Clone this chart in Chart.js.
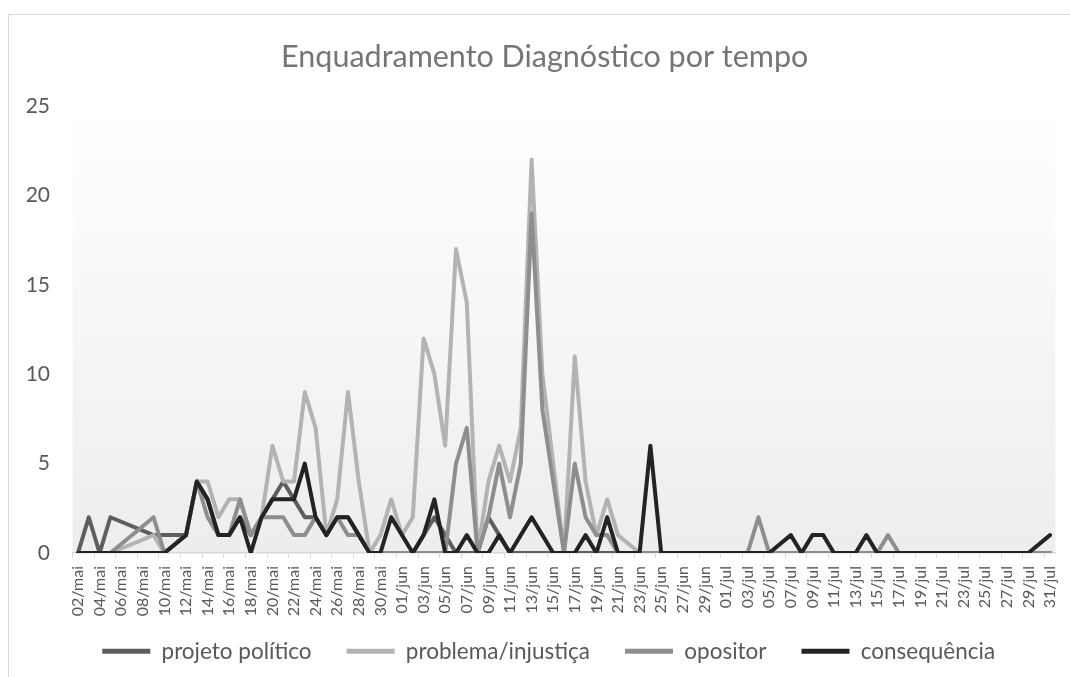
<!DOCTYPE html>
<html>
<head>
<meta charset="utf-8">
<script src="https://cdn.jsdelivr.net/npm/chart.js@4.4.1/dist/chart.umd.min.js"></script>
<style>
  html, body { margin: 0; padding: 0; background: #fff; }
  #wrap { position: relative; width: 1070px; height: 677px; }
</style>
</head>
<body>
<div id="wrap"><canvas id="graficoTempo"></canvas></div>
<script>
// dias (02/mai a 31/jul)
var dias = [
  '02/mai','03/mai','04/mai','05/mai','06/mai','07/mai','08/mai','09/mai','10/mai','11/mai',
  '12/mai','13/mai','14/mai','15/mai','16/mai','17/mai','18/mai','19/mai','20/mai','21/mai',
  '22/mai','23/mai','24/mai','25/mai','26/mai','27/mai','28/mai','29/mai','30/mai','31/mai',
  '01/jun','02/jun','03/jun','04/jun','05/jun','06/jun','07/jun','08/jun','09/jun','10/jun',
  '11/jun','12/jun','13/jun','14/jun','15/jun','16/jun','17/jun','18/jun','19/jun','20/jun',
  '21/jun','22/jun','23/jun','24/jun','25/jun','26/jun','27/jun','28/jun','29/jun','30/jun',
  '01/jul','02/jul','03/jul','04/jul','05/jul','06/jul','07/jul','08/jul','09/jul','10/jul',
  '11/jul','12/jul','13/jul','14/jul','15/jul','16/jul','17/jul','18/jul','19/jul','20/jul',
  '21/jul','22/jul','23/jul','24/jul','25/jul','26/jul','27/jul','28/jul','29/jul','30/jul',
  '31/jul'
];

// null = dia sem registro (a linha liga os vizinhos)
var projetoPolitico = [
  0,2,0,2,null,null,null,1,1,null,
  1,4,3,1,1,2,1,2,3,4,
  3,2,2,1,2,2,1,0,0,0,
  0,0,1,2,1,0,0,0,2,1,
  0,0,0,0,0,0,0,0,0,0,
  0,null,0,0,0,0,0,0,0,0,
  0,0,0,0,0,null,0,0,0,0,
  0,0,0,0,0,0,0,0,0,0,
  0,0,0,0,0,0,0,0,0,null,
  0
];
var problemaInjustica = [
  0,0,0,0,null,null,null,1,0,null,
  1,4,4,2,3,3,1,2,6,4,
  4,9,7,1,3,9,4,0,1,3,
  1,2,12,10,6,17,14,0,4,6,
  4,7,22,10,5,0,11,4,1,3,
  1,null,0,0,0,0,0,0,0,0,
  0,0,0,0,0,null,0,0,0,0,
  0,0,0,0,0,0,0,0,0,0,
  0,0,0,0,0,0,0,0,0,null,
  0
];
var opositor = [
  0,0,0,0,null,null,null,2,0,null,
  1,4,2,1,1,3,1,2,2,2,
  1,1,2,1,2,1,1,0,0,0,
  0,0,0,0,0,5,7,0,2,5,
  2,5,19,8,4,0,5,2,1,1,
  0,null,0,0,0,0,0,0,0,0,
  0,0,0,2,0,null,0,0,0,0,
  0,0,0,0,0,1,0,0,0,0,
  0,0,0,0,0,0,0,0,0,null,
  0
];
var consequencia = [
  0,0,0,0,null,null,null,0,0,null,
  1,4,3,1,1,2,0,2,3,3,
  3,5,2,1,2,2,1,0,0,2,
  1,0,1,3,0,0,1,0,0,1,
  0,1,2,1,0,0,0,1,0,2,
  0,null,0,6,0,0,0,0,0,0,
  0,0,0,0,0,null,1,0,1,1,
  0,0,0,1,0,0,0,0,0,0,
  0,0,0,0,0,0,0,0,0,null,
  1
];
var nomesSeries = ['projeto político', 'problema/injustiça', 'opositor', 'consequência'];
var coresSeries = ['#5e5e5e', '#b3b3b3', '#8e8e8e', '#232323'];
var ticksY = [0, 5, 10, 15, 20, 25];

var fonte = 'Lato, "Open Sans", sans-serif';

var fundoPlugin = {
  id: 'fundo',
  beforeDraw: function(chart) {
    var ctx = chart.ctx, a = chart.chartArea;
    ctx.save();
    ctx.fillStyle = '#ffffff';
    ctx.fillRect(0, 0, chart.width, chart.height);
    var g = ctx.createLinearGradient(0, a.top, 0, a.bottom);
    g.addColorStop(0, '#ffffff');
    g.addColorStop(1, '#ededed');
    ctx.fillStyle = g;
    ctx.fillRect(a.left, a.top, a.right - a.left, a.bottom - a.top);
    ctx.strokeStyle = '#d9d9d9';
    ctx.lineWidth = 1;
    ctx.strokeRect(8.5, 14.5, chart.width + 20, chart.height + 20);
    ctx.restore();
  }
};

// ajuste fino da posição do título e da legenda
var ajustePlugin = {
  id: 'ajuste',
  afterLayout: function(chart) {
    var l = chart.legend;
    l.top -= 12;
    l.left += 16;
    l.right += 16;
    var t = chart.titleBlock;
    if (t) { t.left += 12; t.right += 12; }
  }
};

function serie(i, valores, ordem) {
  return {
    label: nomesSeries[i],
    data: valores,
    borderColor: coresSeries[i],
    backgroundColor: coresSeries[i],
    borderWidth: 4,
    pointRadius: 0,
    tension: 0,
    spanGaps: true,
    fill: false,
    borderJoinStyle: 'round',
    borderCapStyle: 'round',
    order: ordem
  };
}

var config = {
  type: 'line',
  data: {
    labels: dias,
    datasets: [
      serie(0, projetoPolitico, 4),
      serie(1, problemaInjustica, 3),
      serie(2, opositor, 2),
      serie(3, consequencia, 1)
    ]
  },
  options: {
    responsive: true,
    maintainAspectRatio: false,
    animation: false,
    layout: { padding: { left: 10, right: 14.6, top: 0, bottom: 0 } },
    plugins: {
      title: {
        display: true,
        text: 'Enquadramento Diagnóstico por tempo',
        color: '#757575',
        font: { family: fonte, size: 30.5, weight: 'normal' },
        padding: { top: 38.7, bottom: 30.7 }
      },
      legend: {
        position: 'bottom',
        maxHeight: 60,
        labels: {
          color: '#595959',
          font: { family: fonte, size: 22.5 },
          boxWidth: 48,
          boxHeight: 5,
          padding: 35,
          sort: function(a, b) { return a.datasetIndex - b.datasetIndex; },
          generateLabels: function(chart) {
            var itens = Chart.defaults.plugins.legend.labels.generateLabels(chart);
            itens.forEach(function(it) {
              it.fillStyle = it.strokeStyle;
              it.lineWidth = 0;
            });
            return itens;
          }
        }
      },
      tooltip: { enabled: false }
    },
    scales: {
      x: {
        offset: true,
        afterFit: function(scale) {
          scale.height = 64;
          scale.paddingLeft = 0;
          scale.paddingRight = 0;
        },
        grid: {
          drawOnChartArea: false,
          drawTicks: true,
          tickLength: 5,
          offset: true,
          color: function(ctx) { return ctx.index % 2 === 0 ? '#d9d9d9' : 'rgba(0,0,0,0)'; }
        },
        border: { color: '#d9d9d9', width: 1.5 },
        ticks: {
          autoSkip: false,
          minRotation: 90,
          maxRotation: 90,
          padding: 8,
          color: '#595959',
          font: { family: fonte, size: 16 },
          callback: function(value, index) {
            return index % 2 === 0 ? dias[index] : '';
          }
        }
      },
      y: {
        min: ticksY[0],
        max: ticksY[ticksY.length - 1],
        afterFit: function(scale) { scale.width = 62.6; },
        afterBuildTicks: function(scale) {
          scale.ticks = ticksY.map(function(v) { return { value: v }; });
        },
        grid: { display: false, drawTicks: false },
        border: { display: false },
        ticks: {
          padding: 22.6,
          color: '#595959',
          font: { family: fonte, size: 21 }
        }
      }
    }
  },
  plugins: [fundoPlugin, ajustePlugin]
};

var graficoTempo = new Chart(document.querySelector('#graficoTempo').getContext('2d'), config);
</script>
</body>
</html>
